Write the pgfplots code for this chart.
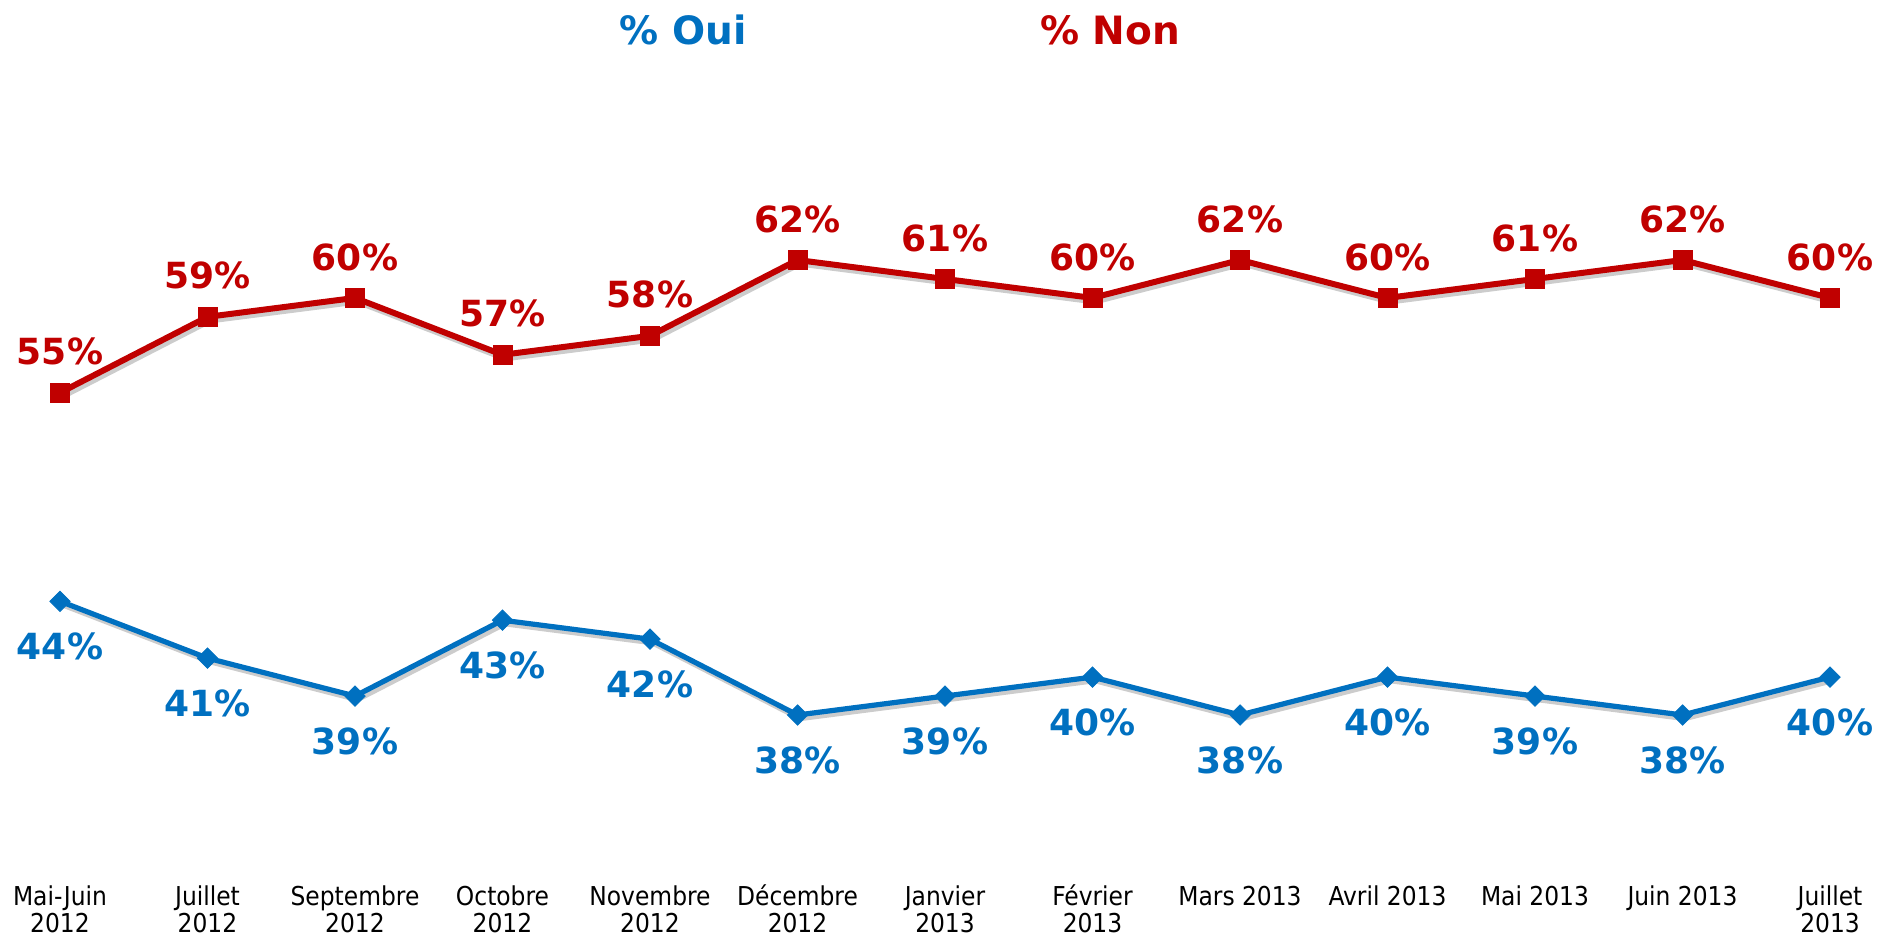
\documentclass[border=0pt]{standalone}
\usepackage{fontspec}
\setmainfont{DejaVu Sans}
\newfontfamily\tickfont{DejaVu Sans Condensed}
\usepackage{pgfplots}
\pgfplotsset{compat=1.18}
\definecolor{nonred}{HTML}{C00000}
\definecolor{ouiblue}{HTML}{0070C0}
\newcommand\R{\rule{0pt}{11pt}}
\begin{document}
\begin{tikzpicture}
\path[use as bounding box] (0,0) rectangle (939.5pt,469pt);
\begin{axis}[
  at={(30pt,111.5pt)}, anchor=south west,
  scale only axis, width=885pt, height=227.5pt,
  xmin=0, xmax=12, ymin=38, ymax=62, enlargelimits=false,
  clip=false,
  axis line style={draw=none},
  major tick style={draw=none},
  ytick=\empty,
  xtick={0,...,12},
  xticklabels={{\R Mai-Juin\\2012},{\R Juillet\\2012},{\R Septembre\\2012},{\R Octobre\\2012},{\R Novembre\\2012},{\R Décembre\\2012},{\R Janvier\\2013},{\R Février\\2013},{\R Mars 2013},{\R Avril 2013},{\R Mai 2013},{\R Juin 2013},{\R Juillet\\2013}},
  x tick label style={font=\tickfont\fontsize{13}{13.6}\selectfont, align=center, anchor=north, inner sep=0pt, yshift=-84pt},
  point meta=y,
]
% shadows
\addplot[gray!40, line width=3pt, xshift=1.2pt, yshift=-1.8pt, forget plot] coordinates {
(0,55) (1,59) (2,60) (3,57) (4,58) (5,62) (6,61) (7,60) (8,62) (9,60) (10,61) (11,62) (12,60)};
\addplot[gray!40, line width=2.6pt, xshift=1.2pt, yshift=-1.8pt, forget plot] coordinates {
(0,44) (1,41) (2,39) (3,43) (4,42) (5,38) (6,39) (7,40) (8,38) (9,40) (10,39) (11,38) (12,40)};
% Non
\addplot[nonred, line width=3pt, mark=square*, mark size=4.7pt, mark options={solid, line width=0.6pt},
  nodes near coords={\pgfmathprintnumber[assume math mode=true]{\pgfplotspointmeta}\%},
  every node near coord/.append style={font=\bfseries\fontsize{18}{20}\selectfont, text=nonred, anchor=center, yshift=20.5pt}]
coordinates {
(0,55) (1,59) (2,60) (3,57) (4,58) (5,62) (6,61) (7,60) (8,62) (9,60) (10,61) (11,62) (12,60)};
% Oui
\addplot[ouiblue, line width=2.6pt, mark=square*, mark size=3.6pt, mark options={solid, rotate=45, line width=0.4pt},
  nodes near coords={\pgfmathprintnumber[assume math mode=true]{\pgfplotspointmeta}\%},
  every node near coord/.append style={font=\bfseries\fontsize{18}{20}\selectfont, text=ouiblue, anchor=center, yshift=-22.5pt}]
coordinates {
(0,44) (1,41) (2,39) (3,43) (4,42) (5,38) (6,39) (7,40) (8,38) (9,40) (10,39) (11,38) (12,40)};
\end{axis}
\node[font=\bfseries\fontsize{19.5}{22}\selectfont, text=ouiblue] at (341.5pt,454pt) {\% Oui};
\node[font=\bfseries\fontsize{19.5}{22}\selectfont, text=nonred] at (555pt,454pt) {\% Non};
\end{tikzpicture}
\end{document}
